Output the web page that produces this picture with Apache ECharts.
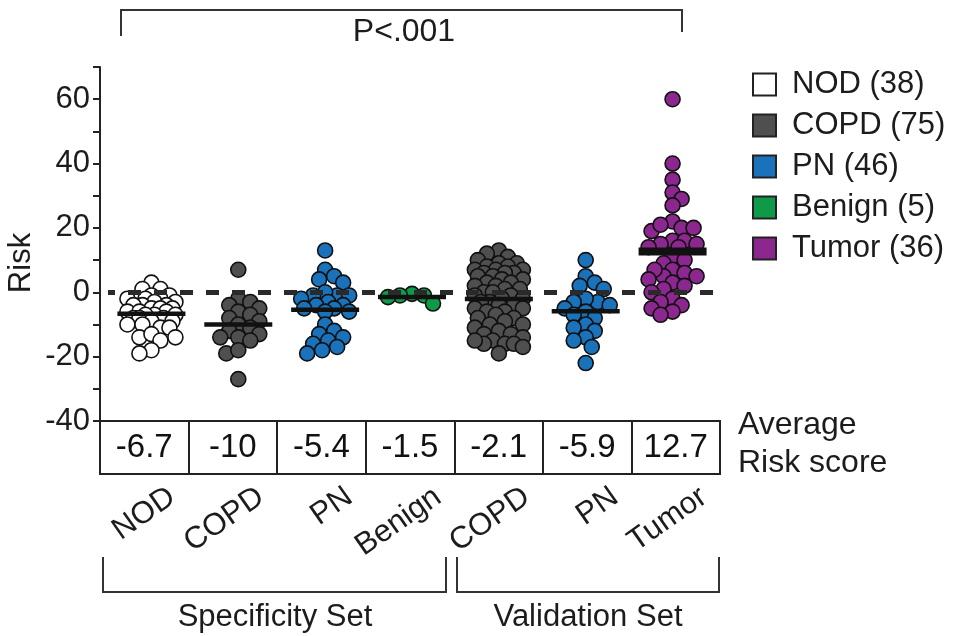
<!DOCTYPE html>
<html>
<head>
<meta charset="utf-8">
<title>Risk score by group</title>
<script src="https://cdn.jsdelivr.net/npm/echarts@6/dist/echarts.min.js"></script>
<style>
  html, body { margin: 0; padding: 0; background: #fff; }
  #chart { width: 957px; height: 636px; }
</style>
</head>
<body>
<div id="chart"></div>
<script>
// Groups along the x axis (specificity set, then validation set)
const groups = ['NOD', 'COPD', 'PN', 'Benign', 'COPD', 'PN', 'Tumor'];
// Average risk score per group (table under the plot)
const averageRisk = [-6.7, -10, -5.4, -1.5, -2.1, -5.9, 12.7];
// Legend entries with group sizes
const legendNames = ['NOD (38)', 'COPD (75)', 'PN (46)', 'Benign (5)', 'Tumor (36)'];

// Individual risk values per group
const nodRisk = [3, 1, 1, -2, -1, -1, -2, -2, -2, -3, -3, -4, -4, -4, -5, -5, -5, -6, -6, -6,
  -7, -7, -7, -8, -8, -8, -9, -9, -10, -10, -11, -11, -14, -13, -14, -15, -18, -19];
const copdSpecRisk = [7, -2, -3, -4, -5, -6, -7, -8, -9, -10, -11, -12, -13, -14, -14, -15, -19, -18, -27];
const pnSpecRisk = [13, 7, 5, 4, 3, -1, 0, -1, -1, -2, -3, -4, -4, -5, -5, -6, -6, -10, -12,
  -13, -14, -15, -16, -17, -18, -19];
const benignRisk = [-0.5, -1, -1, -1.5, -3.5];
const copdValRisk = [13, 12, 11, 10, 9, 9, 8, 8, 7, 7, 7, 6, 6, 6, 5, 5, 4, 4, 3, 3, 2, 2, 1, 1, 0, 0,
  -1, -1, -2, -2, -3, -3, -4, -4, -5, -5, -6, -6, -7, -8, -8, -9, -10, -10,
  -11, -12, -13, -13, -14, -15, -16, -16, -15, -16, -17, -19];
const pnValRisk = [10, 5, 3, 2, 1, -3, -2, -3, -4, -5, -6, -7, -8, -10, -11, -12, -14, -15, -17, -22];
const tumorRisk = [60, 40, 35, 31, 29, 27, 22, 20, 19, 21, 20, 16, 15, 14, 16, 15, 14, 11, 10, 9,
  7, 6, 5, 7, 5, 4, 3, 2, 1, 0, -2, -3, -4, -5, -6, -7];

const groupValues = [nodRisk, copdSpecRisk, pnSpecRisk, benignRisk, copdValRisk, pnValRisk, tumorRisk];
// which legend entry each group belongs to
const groupLegend = [0, 1, 2, 3, 1, 2, 4];
const legendColors = ['#ffffff', '#4f4f4f', '#1a72bb', '#0f9a49', '#8c2790'];

const FONT = '"Liberation Sans", Arial, Helvetica, sans-serif';
const INK = '#1c1c1c';

// plot area geometry
const plot = { left: 108, top: 67, width: 608, height: 354 };
const yMin = -40, yMax = 70;
const pxPerY = plot.height / (yMax - yMin);
const pxPerX = plot.width / groups.length;
const DOT = 15;

// Simple beeswarm: spread points sideways so they overlap only partly
function swarm(values) {
  const order = values.map((v, i) => i).sort((a, b) => values[b] - values[a]);
  const placed = [];
  const offsets = new Array(values.length).fill(0);
  const minDist = 11, maxOff = 24, step = 3;
  order.forEach((idx, n) => {
    const y = values[idx] * pxPerY;
    const sign = n % 2 === 0 ? 1 : -1;
    const cands = [0];
    for (let k = 1; k * step <= maxOff; k++) cands.push(sign * k * step, -sign * k * step);
    let chosen = null, bestC = 0, bestD = -1;
    for (const c of cands) {
      let d = Infinity;
      for (const p of placed) d = Math.min(d, Math.hypot(c - p.x, y - p.y));
      if (d >= minDist) { chosen = c; break; }
      if (d > bestD) { bestD = d; bestC = c; }
    }
    if (chosen === null) chosen = bestC;
    placed.push({ x: chosen, y });
    offsets[idx] = chosen;
  });
  return offsets;
}

const pointSeries = groupValues.map((vals, gi) => {
  const offs = swarm(vals);
  const li = groupLegend[gi];
  return {
    type: 'scatter',
    name: legendNames[li],
    xAxisIndex: 0, yAxisIndex: 0,
    symbol: 'circle',
    symbolSize: DOT,
    z: 2,
    itemStyle: { color: legendColors[li], borderColor: '#111', borderWidth: 1.6, opacity: 1 },
    emphasis: { disabled: true },
    data: vals.map((v, i) => [gi + offs[i] / pxPerX, v])
  };
});

const chart = echarts.init(document.getElementById('chart'), null, { renderer: 'canvas' });

chart.setOption({
  animation: false,
  backgroundColor: '#ffffff',
  textStyle: { fontFamily: FONT, color: INK },
  legend: {
    data: legendNames,
    orient: 'vertical',
    left: 752, top: 69,
    icon: 'rect',
    itemWidth: 23, itemHeight: 22, itemGap: 10,
    padding: 0,
    selectedMode: false,
    itemStyle: { borderColor: '#222', borderWidth: 2 },
    textStyle: { fontFamily: FONT, fontSize: 31, color: INK, padding: [0, 0, 0, 11] }
  },
  grid: [
    { left: plot.left, top: plot.top, width: plot.width, height: plot.height },
    { left: 100, top: 421, width: 620, height: 53, show: true, borderColor: '#222', borderWidth: 2, backgroundColor: 'transparent' },
    { left: 128, top: 421, width: 620, height: 53 }
  ],
  xAxis: [
    { gridIndex: 0, type: 'value', min: -0.5, max: groups.length - 0.5, show: false },
    {
      gridIndex: 1, type: 'category', data: groups,
      axisLine: { show: false }, axisTick: { show: false }, axisLabel: { show: false },
      splitLine: { show: true, lineStyle: { color: '#222', width: 2 } }
    },
    {
      gridIndex: 2, type: 'category', data: groups,
      axisLine: { show: false }, axisTick: { show: false },
      axisLabel: { interval: 0, rotate: 35, margin: 20, fontFamily: FONT, fontSize: 31, color: INK }
    }
  ],
  yAxis: [
    {
      gridIndex: 0, type: 'value', min: yMin, max: yMax, interval: 10, offset: 8,
      axisLine: { show: true, onZero: false, lineStyle: { color: '#222', width: 2 } },
      axisTick: { show: true, length: 7, lineStyle: { color: '#222', width: 2 } },
      axisLabel: {
        margin: 10, fontFamily: FONT, fontSize: 31, color: INK,
        formatter: v => (v % 20 === 0 && v <= 60 ? String(v) : '')
      },
      splitLine: { show: false }
    },
    { gridIndex: 1, type: 'value', min: 0, max: 1, show: false },
    { gridIndex: 2, type: 'value', min: 0, max: 1, show: false }
  ],
  series: [
    ...pointSeries,
    {
      // zero reference line
      type: 'scatter', name: 'zero', xAxisIndex: 0, yAxisIndex: 0, data: [], z: 3,
      markLine: {
        silent: true, symbol: ['none', 'none'], label: { show: false },
        lineStyle: { color: '#2a2a2a', width: 5, type: [13, 13], dashOffset: 6, opacity: 1 },
        data: [{ yAxis: 0 }]
      }
    },
    {
      // group means
      type: 'custom', name: 'mean', xAxisIndex: 0, yAxisIndex: 0, z: 4,
      data: averageRisk.map((v, i) => [i, v]),
      renderItem: (params, api) => {
        const p = api.coord([api.value(0), api.value(1)]);
        const half = 34;
        const h = params.dataIndex === groups.length - 1 ? 8 : 4.5;
        return { type: 'rect', shape: { x: p[0] - half, y: p[1] - h / 2, width: half * 2, height: h }, style: { fill: '#111' } };
      }
    },
    {
      // average risk table values
      type: 'scatter', name: 'table', xAxisIndex: 1, yAxisIndex: 1,
      symbolSize: 0, silent: true,
      itemStyle: { opacity: 1 },
      data: averageRisk.map((v, i) => [i, 0.5, v]),
      label: {
        show: true, position: 'inside', formatter: p => String(p.value[2]),
        fontFamily: FONT, fontSize: 33, color: '#111', opacity: 1
      }
    }
  ],
  graphic: [
    { type: 'polyline', shape: { points: [[121, 36], [121, 10], [682, 10], [682, 32]] }, style: { stroke: '#333', lineWidth: 2, fill: null } },
    { type: 'text', x: 404, y: 32, style: { text: 'P<.001', font: '32px ' + FONT, fill: INK, align: 'center', verticalAlign: 'middle' } },
    { type: 'text', x: 21, y: 263, rotation: Math.PI / 2, style: { text: 'Risk', font: '31px ' + FONT, fill: INK, align: 'center', verticalAlign: 'middle' } },
    { type: 'text', x: 738, y: 425, style: { text: 'Average', font: '32px ' + FONT, fill: INK, align: 'left', verticalAlign: 'middle' } },
    { type: 'text', x: 738, y: 463, style: { text: 'Risk score', font: '32px ' + FONT, fill: INK, align: 'left', verticalAlign: 'middle' } },
    { type: 'polyline', shape: { points: [[103, 557], [103, 592], [446, 592], [446, 557]] }, style: { stroke: '#333', lineWidth: 2, fill: null } },
    { type: 'polyline', shape: { points: [[457, 557], [457, 592], [719, 592], [719, 557]] }, style: { stroke: '#333', lineWidth: 2, fill: null } },
    { type: 'text', x: 275, y: 617, style: { text: 'Specificity Set', font: '31px ' + FONT, fill: INK, align: 'center', verticalAlign: 'middle' } },
    { type: 'text', x: 588, y: 617, style: { text: 'Validation Set', font: '31px ' + FONT, fill: INK, align: 'center', verticalAlign: 'middle' } }
  ]
});
</script>
</body>
</html>
